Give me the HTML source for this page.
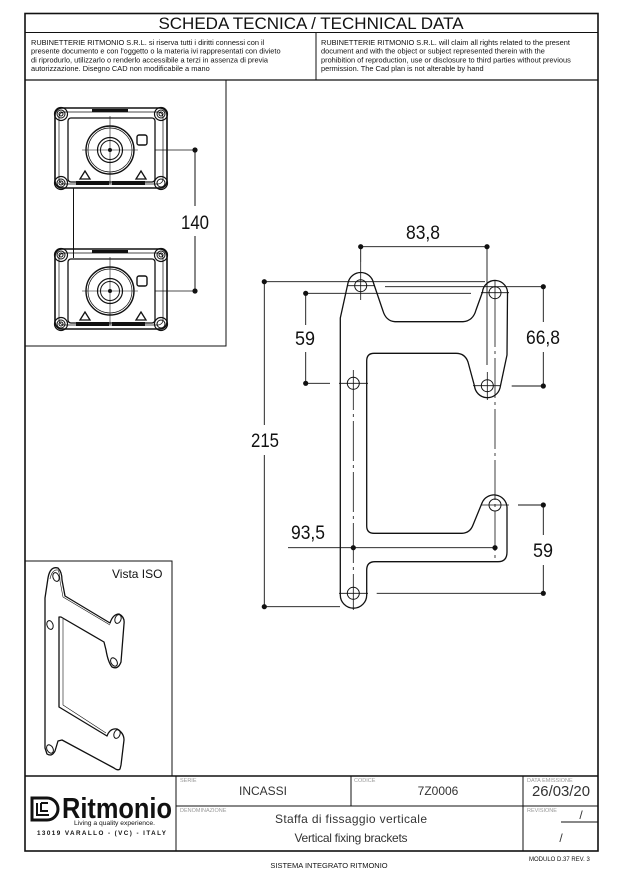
<!DOCTYPE html>
<html><head><meta charset="utf-8"><style>
html,body{margin:0;padding:0;background:#fff}
svg{display:block}
text{font-family:"Liberation Sans",sans-serif}
</style></head><body>
<svg width="618" height="869" viewBox="0 0 618 869" xmlns="http://www.w3.org/2000/svg">
<defs>
<g id="mod" fill="none" stroke="#111">
  <rect x="-55" y="-42" width="112" height="80" rx="7" stroke-width="1.6"/>
  <rect x="-51" y="-38" width="104" height="72" rx="5" stroke-width="0.7"/>
  <rect x="-42" y="-32" width="87" height="64" rx="3" stroke-width="1.3"/>
  <circle cx="-49" cy="-36" r="6.5" stroke-width="1.2"/><circle cx="-49" cy="-36" r="4" stroke-width="1"/><circle cx="-49" cy="-36" r="2" stroke-width="1"/>
  <circle cx="51" cy="-36" r="6.5" stroke-width="1.2"/><circle cx="51" cy="-36" r="4" stroke-width="1"/><circle cx="51" cy="-36" r="2" stroke-width="1"/>
  <circle cx="-49" cy="33" r="6.5" stroke-width="1.2"/><circle cx="-49" cy="33" r="4" stroke-width="1"/><circle cx="-49" cy="33" r="2" stroke-width="1"/>
  <circle cx="51" cy="33" r="6.5" stroke-width="1.2"/><circle cx="51" cy="33" r="4" stroke-width="1"/>
  <circle cx="0" cy="0" r="24" stroke-width="1.4"/><circle cx="0" cy="0" r="22" stroke-width="0.7"/>
  <circle cx="0" cy="0" r="12.5" stroke-width="1.2"/><circle cx="0" cy="0" r="9.5" stroke-width="1"/>
  <circle cx="0" cy="0" r="1.5" fill="#111"/>
  <line x1="-28" y1="0" x2="28" y2="0" stroke-width="0.6"/><line x1="0" y1="-34" x2="0" y2="34" stroke-width="0.6"/>
  <rect x="-18" y="-41" width="36" height="3" fill="#111" stroke="none"/>
  <rect x="-34" y="31" width="33" height="4" fill="#111" stroke="none"/>
  <rect x="2" y="31" width="33" height="4" fill="#111" stroke="none"/>
  <rect x="27" y="-15" width="10" height="10" rx="2" stroke-width="1.4"/>
  <path d="M-30 29 l5 -8 l5 8 z" stroke-width="1.3"/><path d="M26 29 l5 -8 l5 8 z" stroke-width="1.3"/>
</g>
</defs>

<!-- frame -->
<g fill="none" stroke="#111">
<rect x="25" y="13.5" width="573" height="837.5" stroke-width="1.6"/>
<line x1="25" y1="32.5" x2="598" y2="32.5" stroke-width="1"/>
<line x1="25" y1="80" x2="598" y2="80" stroke-width="1.3"/>
<line x1="316" y1="32.5" x2="316" y2="80" stroke-width="1"/>
<!-- left panels -->
<polyline points="226,80 226,346 25,346" stroke-width="1"/>
<polyline points="25,561 172,561 172,776" stroke-width="1"/>
<!-- title block -->
<line x1="25" y1="776" x2="598" y2="776" stroke-width="1.6"/>
<line x1="176" y1="776" x2="176" y2="851" stroke-width="1"/>
<line x1="351" y1="776" x2="351" y2="806" stroke-width="1"/>
<line x1="523" y1="776" x2="523" y2="851" stroke-width="1"/>
<line x1="176" y1="806" x2="523" y2="806" stroke-width="1"/>
<line x1="523" y1="806" x2="598" y2="806" stroke-width="1"/>
<line x1="561" y1="822" x2="598" y2="822" stroke-width="1"/>
</g>

<text x="311" y="29" font-size="17" text-anchor="middle" fill="#111">SCHEDA TECNICA / TECHNICAL DATA</text>
<g font-size="7.4" fill="#111">
<text x="31" y="45">RUBINETTERIE RITMONIO S.R.L. si riserva tutti i diritti connessi con il</text>
<text x="31" y="53.7">presente documento e con l'oggetto o la materia ivi rappresentati con divieto</text>
<text x="31" y="62.4">di riprodurlo, utilizzarlo o renderlo accessibile a terzi in assenza di previa</text>
<text x="31" y="71.1">autorizzazione. Disegno CAD non modificabile a mano</text>
<text x="321" y="45">RUBINETTERIE RITMONIO S.R.L. will claim all rights related to the present</text>
<text x="321" y="53.7">document and with the object or subject represented therein with the</text>
<text x="321" y="62.4">prohibition  of reproduction, use or disclosure to third parties without previous</text>
<text x="321" y="71.1">permission.  The Cad plan is not alterable by hand</text>
</g>

<!-- modules -->
<use href="#mod" transform="translate(110,150)"/>
<use href="#mod" transform="translate(110,291)"/>
<g stroke="#111" fill="none" stroke-width="1">
<line x1="73.5" y1="188" x2="73.5" y2="258"/>
<line x1="155" y1="150" x2="195" y2="150" stroke-width="0.8"/>
<line x1="155" y1="291" x2="195" y2="291" stroke-width="0.8"/>
<line x1="195" y1="150" x2="195" y2="206"/><line x1="195" y1="236" x2="195" y2="291"/>
</g>
<circle cx="195" cy="150" r="2.6" fill="#111"/><circle cx="195" cy="291" r="2.6" fill="#111"/>
<text x="195" y="229" font-size="19" text-anchor="middle" fill="#111" textLength="28" lengthAdjust="spacingAndGlyphs">140</text>

<!-- ISO view -->
<text x="112" y="578" font-size="12" fill="#111">Vista ISO</text>
<g fill="none" stroke="#111" stroke-width="1.3" stroke-linejoin="round">
<path d="M48 578 Q50 566 58 568 Q62 572 62 580 L65 596 L110 623 Q113 614 119 614 Q125 617 124 624 L121 662 Q118 670 112 667 Q108 662 106 650 L104 642 L61 617 L59 617 L59 707 L107 736 Q110 728 117 729 Q124 733 124 740 L121 765 L120 769 Q118 771 114 768 L62 740 L58 741 L55 751 Q52 757 47 754 L45 748 L45 598 Z"/>
<path d="M50 579 Q52 569 58 570 Q60 574 60 581 L63 597 L110 625" stroke-width="0.6"/>
<path d="M63 619 L63 705 L106 733" stroke-width="0.6"/>
<ellipse cx="56" cy="577" rx="3" ry="4.5" transform="rotate(-20 56 577)" stroke-width="1"/>
<ellipse cx="50" cy="625" rx="3" ry="4.5" transform="rotate(-20 50 625)" stroke-width="1"/>
<ellipse cx="118" cy="619" rx="3" ry="4.5" transform="rotate(20 118 619)" stroke-width="1"/>
<ellipse cx="114" cy="662" rx="3" ry="4.5" transform="rotate(-30 114 662)" stroke-width="1"/>
<ellipse cx="117" cy="734" rx="3" ry="4.5" transform="rotate(20 117 734)" stroke-width="1"/>
<ellipse cx="50" cy="749" rx="3" ry="4.5" transform="rotate(-30 50 749)" stroke-width="1"/>
</g>

<!-- main bracket -->
<g fill="none" stroke="#111" stroke-width="1.3" stroke-linejoin="round">
<path d="M348 283 A13 13 0 0 1 373.5 283 L383 311 Q386 321 395 321.7 L463 321.7 Q473 321 476 310 L482.5 292 A12.5 12.5 0 0 1 507.5 294 L507 355 L500 388 A13 13 0 0 1 474.5 386 L468 362 Q465 353.3 456 353.3 L374 353.3 Q366.7 353.3 366.7 361 L366.7 526 Q366.7 533.3 374 533.3 L462 533.3 Q470 533 473 525 L482 503 A13 13 0 0 1 507 507 L507 552 Q507 561.7 498 561.7 L375 561.7 Q366.7 561.7 366.7 570 L366.7 595 A13 13 0 0 1 340.3 595 L340.3 318 Z"/>
</g>
<g fill="none" stroke="#111" stroke-width="1">
<circle cx="360.7" cy="285.7" r="6"/><circle cx="495" cy="292.7" r="6"/>
<circle cx="487.3" cy="385.7" r="6"/><circle cx="353.3" cy="383.3" r="6"/>
<circle cx="495" cy="505" r="6"/><circle cx="353.3" cy="593.3" r="6"/>
</g>
<!-- centerlines -->
<g stroke="#111" stroke-width="0.8" fill="none">
<line x1="347" y1="285.7" x2="375" y2="285.7"/><line x1="360.7" y1="262" x2="360.7" y2="300"/>
<line x1="481" y1="292.7" x2="509" y2="292.7"/><line x1="495" y1="280" x2="495" y2="307" />
<line x1="473" y1="385.7" x2="501" y2="385.7"/><line x1="487.3" y1="372" x2="487.3" y2="400"/>
<line x1="339" y1="383.3" x2="368" y2="383.3"/>
<line x1="481" y1="505" x2="509" y2="505"/>
<line x1="339" y1="593.3" x2="368" y2="593.3"/>
<line x1="353.3" y1="370" x2="353.3" y2="610" stroke-dasharray="40 4 3 4"/>
<line x1="495" y1="307" x2="495" y2="560" stroke-dasharray="40 4 3 4"/>
</g>
<!-- dimensions -->
<g stroke="#111" stroke-width="0.9" fill="none">
<line x1="360.7" y1="246.7" x2="487" y2="246.7"/>
<line x1="360.7" y1="246.7" x2="360.7" y2="262"/>
<line x1="487" y1="246.7" x2="487" y2="365"/>
<line x1="264.3" y1="281.7" x2="264.3" y2="425"/><line x1="264.3" y1="455" x2="264.3" y2="606.7"/>
<line x1="264.3" y1="281.7" x2="485" y2="281.7"/>
<line x1="264.3" y1="606.7" x2="340" y2="606.7"/>
<line x1="305.7" y1="293.3" x2="305.7" y2="325"/><line x1="305.7" y1="352" x2="305.7" y2="383.3"/>
<line x1="305.7" y1="293.3" x2="471" y2="293.3"/>
<line x1="305.7" y1="383.3" x2="330" y2="383.3"/>
<line x1="385" y1="286.7" x2="543.3" y2="286.7"/>
<line x1="511.7" y1="386" x2="543.3" y2="386"/>
<line x1="543.3" y1="286.7" x2="543.3" y2="322"/><line x1="543.3" y1="352" x2="543.3" y2="386"/>
<line x1="518" y1="505" x2="543.3" y2="505"/>
<line x1="376.7" y1="593.3" x2="543.3" y2="593.3"/>
<line x1="543.3" y1="505" x2="543.3" y2="535"/><line x1="543.3" y1="565" x2="543.3" y2="593.3"/>
<line x1="288" y1="547.7" x2="495" y2="547.7"/>
</g>
<g fill="#111">
<circle cx="360.7" cy="246.7" r="2.6"/><circle cx="487" cy="246.7" r="2.6"/>
<circle cx="264.3" cy="281.7" r="2.6"/><circle cx="264.3" cy="606.7" r="2.6"/>
<circle cx="305.7" cy="293.3" r="2.6"/><circle cx="305.7" cy="383.3" r="2.6"/>
<circle cx="543.3" cy="286.7" r="2.6"/><circle cx="543.3" cy="386" r="2.6"/>
<circle cx="543.3" cy="505" r="2.6"/><circle cx="543.3" cy="593.3" r="2.6"/>
<circle cx="353.3" cy="547.7" r="2.6"/><circle cx="495" cy="547.7" r="2.6"/>
</g>
<g font-size="19" fill="#111" text-anchor="middle">
<text x="423" y="239" textLength="34" lengthAdjust="spacingAndGlyphs">83,8</text>
<text x="265" y="447" textLength="28" lengthAdjust="spacingAndGlyphs">215</text>
<text x="305" y="345" textLength="20" lengthAdjust="spacingAndGlyphs">59</text>
<text x="543" y="344" textLength="34" lengthAdjust="spacingAndGlyphs">66,8</text>
<text x="543" y="557" textLength="20" lengthAdjust="spacingAndGlyphs">59</text>
<text x="308" y="539" textLength="34" lengthAdjust="spacingAndGlyphs">93,5</text>
</g>

<!-- title block content -->
<g fill="#999" font-size="5.5">
<text x="180" y="782">SERIE</text>
<text x="354" y="782">CODICE</text>
<text x="527" y="782">DATA EMISSIONE</text>
<text x="180" y="812">DENOMINAZIONE</text>
<text x="527" y="812">REVISIONE</text>
</g>
<g fill="#333" font-size="12" text-anchor="middle" font-family="'DejaVu Sans',sans-serif" style="font-family:'DejaVu Sans',sans-serif;font-weight:200">
<text x="263" y="795" style="font-family:'Liberation Sans',sans-serif">INCASSI</text>
<text x="438" y="795" style="font-family:'Liberation Sans',sans-serif">7Z0006</text>
<text x="561" y="796" font-size="15" style="font-family:'Liberation Sans',sans-serif" textLength="58" lengthAdjust="spacingAndGlyphs">26/03/20</text>
<text x="351" y="823" style="font-family:'Liberation Sans',sans-serif" textLength="152" lengthAdjust="spacing">Staffa di fissaggio verticale</text>
<text x="351" y="842" style="font-family:'Liberation Sans',sans-serif" textLength="113" lengthAdjust="spacing">Vertical fixing brackets</text>
<text x="581" y="819" style="font-family:'Liberation Sans',sans-serif">/</text>
<text x="561" y="842" style="font-family:'Liberation Sans',sans-serif">/</text>
</g>
<!-- logo -->
<g>
<path d="M32 798 L47 798 A11 11 0 0 1 47 820 L32 820 Z" fill="none" stroke="#111" stroke-width="3"/>
<path d="M37 803 L37 815 L49 815 M41 803 L48 803 M41 803 L41 811 L48 811" fill="none" stroke="#111" stroke-width="2"/>
<text x="62" y="818" font-size="29" font-weight="bold" fill="#111" textLength="110" lengthAdjust="spacingAndGlyphs">Ritmonio</text>
<text x="74" y="825" font-size="6.3" fill="#111" textLength="81" lengthAdjust="spacingAndGlyphs">Living a quality experience.</text>
<text x="37" y="835" font-size="6.3" font-weight="bold" fill="#111" textLength="129" lengthAdjust="spacing">13019 VARALLO - (VC) - ITALY</text>
</g>
<text x="329" y="868" font-size="7.5" fill="#111" text-anchor="middle">SISTEMA INTEGRATO RITMONIO</text>
<text x="529" y="861" font-size="6" fill="#111">MODULO D.37 REV. 3</text>
</svg>
</body></html>
